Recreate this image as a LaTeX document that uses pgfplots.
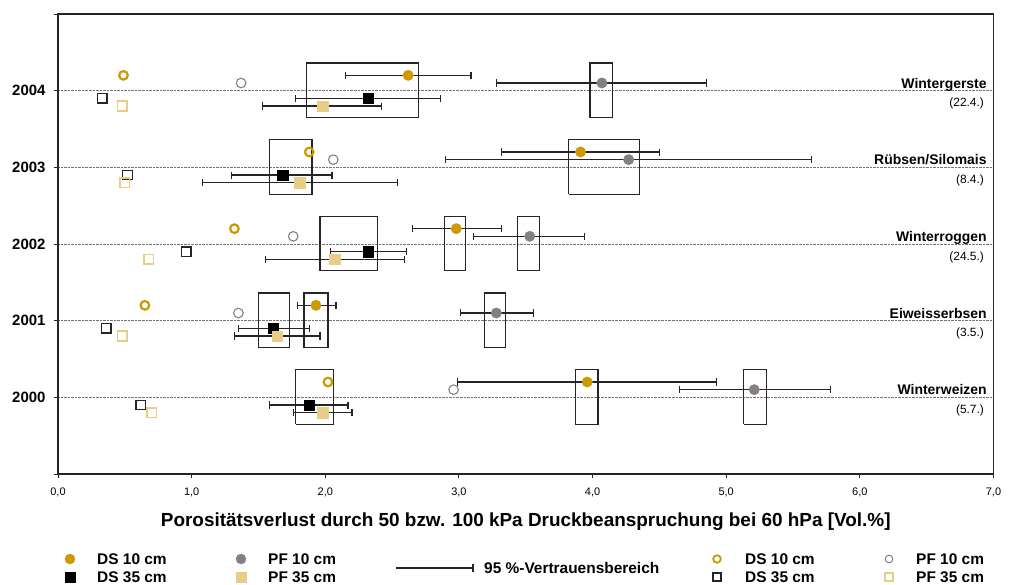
\documentclass[border=0pt]{standalone}
\usepackage{pgfplots}
\pgfplotsset{compat=1.18}
\usepackage{pgfplotstable}
\usepackage{fontspec}
\setmainfont{Liberation Sans}
\definecolor{cDS}{RGB}{204,153,0}
\definecolor{cPF}{RGB}{133,127,133}
\definecolor{cPFt}{RGB}{232,205,135}
\definecolor{cax}{RGB}{40,35,40}

% filled series: x y ep em
\pgfplotstableread{
x y ep em
2.62 2004.2 0.47 0.47
3.91 2003.2 0.59 0.59
2.98 2002.2 0.34 0.33
1.93 2001.2 0.15 0.14
3.96 2000.2 0.97 0.97
}\dsten
\pgfplotstableread{
x y ep em
4.07 2004.1 0.78 0.79
4.27 2003.1 1.37 1.37
3.53 2002.1 0.41 0.42
3.28 2001.1 0.28 0.27
5.21 2000.1 0.57 0.56
}\pften
\pgfplotstableread{
x y ep em
2.32 2003.9 0.54 0.54
1.68 2002.9 0.37 0.38
2.32 2001.9 0.29 0.28
1.61 2000.9 0.27 0.26
1.88 1999.9 0.29 0.30
}\dsdrei
\pgfplotstableread{
x y ep em
1.98 2003.8 0.44 0.45
1.81 2002.8 0.73 0.73
2.07 2001.8 0.52 0.52
1.64 2000.8 0.32 0.32
1.98 1999.8 0.22 0.22
}\pfdrei

\tikzset{
  cropname/.style={anchor=base east, inner sep=0pt, font=\fontsize{14}{16}\selectfont\bfseries, yshift=2.5bp},
  cropdate/.style={anchor=east, inner sep=0pt, font=\fontsize{12}{14}\selectfont, yshift=-13bp},
  legtext/.style={anchor=west, inner sep=0pt, font=\fontsize{15.5}{17}\selectfont\bfseries},
}

\begin{document}
\begin{tikzpicture}
\useasboundingbox (0,0) rectangle (1018bp,585bp);
\begin{axis}[
  at={(58bp,111bp)}, anchor=south west,
  scale only axis, width=935.5bp, height=460bp,
  xmin=0, xmax=7, ymin=1999, ymax=2005,
  axis line style={cax, line width=1.2bp},
  xtick={0,1,2,3,4,5,6,7},
  xticklabels={{0,0},{1,0},{2,0},{3,0},{4,0},{5,0},{6,0},{7,0}},
  ytick={1999,2000,2001,2002,2003,2004,2005},
  yticklabels={{},2000,2001,2002,2003,2004,{}},
  tick align=outside, xtick pos=lower, ytick pos=left,
  major tick length=4bp,
  tick style={cax, line width=1bp},
  xticklabel style={font=\fontsize{11}{13}\selectfont, yshift=-6bp},
  yticklabel style={font=\fontsize{15}{18}\selectfont\bfseries, xshift=-5bp},
  ymajorgrids, major grid style={densely dotted, gray!90!black, line width=0.6bp},
  xlabel={Porositätsverlust durch 50 bzw. 100 kPa Druckbeanspruchung bei 60 hPa [Vol.\%]},
  xlabel style={font=\fontsize{19}{22}\selectfont\bfseries, at={(axis description cs:0.5,0)}, anchor=center, yshift=-48bp},
  clip=false,
  error bars/error mark=|,
  error bars/error bar style={cax, line width=1.2bp},
  error bars/error mark options={cax, line width=1.2bp, mark size=3.5bp},
]
% boxes
\addplot[cax, line width=1.2bp] coordinates {(1.86,2003.65) (2.70,2003.65) (2.70,2004.36) (1.86,2004.36) (1.86,2003.65)};
\addplot[cax, line width=1.2bp] coordinates {(3.98,2003.65) (4.15,2003.65) (4.15,2004.36) (3.98,2004.36) (3.98,2003.65)};
\addplot[cax, line width=1.2bp] coordinates {(1.58,2002.65) (1.90,2002.65) (1.90,2003.36) (1.58,2003.36) (1.58,2002.65)};
\addplot[cax, line width=1.2bp] coordinates {(3.82,2002.65) (4.35,2002.65) (4.35,2003.36) (3.82,2003.36) (3.82,2002.65)};
\addplot[cax, line width=1.2bp] coordinates {(1.96,2001.65) (2.39,2001.65) (2.39,2002.36) (1.96,2002.36) (1.96,2001.65)};
\addplot[cax, line width=1.2bp] coordinates {(2.89,2001.65) (3.05,2001.65) (3.05,2002.36) (2.89,2002.36) (2.89,2001.65)};
\addplot[cax, line width=1.2bp] coordinates {(3.44,2001.65) (3.60,2001.65) (3.60,2002.36) (3.44,2002.36) (3.44,2001.65)};
\addplot[cax, line width=1.2bp] coordinates {(1.50,2000.65) (1.73,2000.65) (1.73,2001.36) (1.50,2001.36) (1.50,2000.65)};
\addplot[cax, line width=1.2bp] coordinates {(1.84,2000.65) (2.02,2000.65) (2.02,2001.36) (1.84,2001.36) (1.84,2000.65)};
\addplot[cax, line width=1.2bp] coordinates {(3.19,2000.65) (3.35,2000.65) (3.35,2001.36) (3.19,2001.36) (3.19,2000.65)};
\addplot[cax, line width=1.2bp] coordinates {(1.78,1999.65) (2.06,1999.65) (2.06,2000.36) (1.78,2000.36) (1.78,1999.65)};
\addplot[cax, line width=1.2bp] coordinates {(3.87,1999.65) (4.04,1999.65) (4.04,2000.36) (3.87,2000.36) (3.87,1999.65)};
\addplot[cax, line width=1.2bp] coordinates {(5.13,1999.65) (5.30,1999.65) (5.30,2000.36) (5.13,2000.36) (5.13,1999.65)};
% filled with error bars
\addplot[only marks, mark=*, mark size=5.2bp, mark options={draw=cDS, fill=cDS},
  error bars/.cd, x dir=both, x explicit]
  table[x=x, y=y, x error plus=ep, x error minus=em]{\dsten};
\addplot[only marks, mark=*, mark size=5.2bp, mark options={draw=cPF, fill=cPF},
  error bars/.cd, x dir=both, x explicit]
  table[x=x, y=y, x error plus=ep, x error minus=em]{\pften};
\addplot[only marks, mark=square*, mark size=5.2bp, mark options={draw=black, fill=black},
  error bars/.cd, x dir=both, x explicit]
  table[x=x, y=y, x error plus=ep, x error minus=em]{\dsdrei};
\addplot[only marks, mark=square*, mark size=5.2bp, mark options={draw=cPFt, fill=cPFt},
  error bars/.cd, x dir=both, x explicit]
  table[x=x, y=y, x error plus=ep, x error minus=em]{\pfdrei};
% open markers
\addplot[only marks, mark=o, mark size=4.3bp, mark options={draw=cDS, line width=2.2bp}]
  coordinates {(0.49,2004.2) (1.88,2003.2) (1.32,2002.2) (0.65,2001.2) (2.02,2000.2)};
\addplot[only marks, mark=o, mark size=4.8bp, mark options={draw=cPF, line width=1.1bp}]
  coordinates {(1.37,2004.1) (2.06,2003.1) (1.76,2002.1) (1.35,2001.1) (2.96,2000.1)};
\addplot[only marks, mark=square, mark size=4.8bp, mark options={draw=cax, line width=1.3bp}]
  coordinates {(0.33,2003.9) (0.52,2002.9) (0.96,2001.9) (0.36,2000.9) (0.62,1999.9)};
\addplot[only marks, mark=square, mark size=4.8bp, mark options={draw=cPFt, line width=1.6bp}]
  coordinates {(0.48,2003.8) (0.50,2002.8) (0.68,2001.8) (0.48,2000.8) (0.70,1999.8)};
% crop labels
\node[cropname] at (axis cs:6.95,2004) {Wintergerste};
\node[cropdate] at (axis cs:6.93,2004) {(22.4.)};
\node[cropname] at (axis cs:6.95,2003) {Rübsen/Silomais};
\node[cropdate] at (axis cs:6.93,2003) {(8.4.)};
\node[cropname] at (axis cs:6.95,2002) {Winterroggen};
\node[cropdate] at (axis cs:6.93,2002) {(24.5.)};
\node[cropname] at (axis cs:6.95,2001) {Eiweisserbsen};
\node[cropdate] at (axis cs:6.93,2001) {(3.5.)};
\node[cropname] at (axis cs:6.95,2000) {Winterweizen};
\node[cropdate] at (axis cs:6.93,2000) {(5.7.)};
\end{axis}
% legend drawn through a hidden pixel axis
\begin{axis}[
  at={(0,0)}, anchor=south west, scale only axis, width=1018bp, height=585bp,
  xmin=0, xmax=1018, ymin=0, ymax=585, y dir=reverse, hide axis, clip=false,
]
\addplot[only marks, mark=*, mark size=5bp, draw=cDS, fill=cDS] coordinates {(70,559)};
\addplot[only marks, mark=square*, mark size=5bp, draw=black, fill=black] coordinates {(70,577)};
\addplot[only marks, mark=*, mark size=5bp, draw=cPF, fill=cPF] coordinates {(241,559)};
\addplot[only marks, mark=square*, mark size=5bp, draw=cPFt, fill=cPFt] coordinates {(241,577)};
\addplot[cax, line width=1.2bp] coordinates {(396,568) (473,568)};
\addplot[cax, line width=1.2bp] coordinates {(473,564) (473,572)};
\addplot[only marks, mark=o, mark size=3.8bp, mark options={draw=cDS, line width=1.8bp}] coordinates {(717,559)};
\addplot[only marks, mark=square, mark size=4bp, mark options={draw=cax, line width=1.2bp}] coordinates {(717,577)};
\addplot[only marks, mark=o, mark size=3.8bp, mark options={draw=cPF, line width=1bp}] coordinates {(889,559)};
\addplot[only marks, mark=square, mark size=4bp, mark options={draw=cPFt, line width=1.5bp}] coordinates {(889,577)};
\node[legtext] at (axis cs:97,559) {DS 10 cm};
\node[legtext] at (axis cs:97,577) {DS 35 cm};
\node[legtext] at (axis cs:268,559) {PF 10 cm};
\node[legtext] at (axis cs:268,577) {PF 35 cm};
\node[legtext] at (axis cs:484,568) {95 \%-Vertrauensbereich};
\node[legtext] at (axis cs:745,559) {DS 10 cm};
\node[legtext] at (axis cs:745,577) {DS 35 cm};
\node[legtext] at (axis cs:916,559) {PF 10 cm};
\node[legtext] at (axis cs:916,577) {PF 35 cm};
\end{axis}
\end{tikzpicture}
\end{document}
